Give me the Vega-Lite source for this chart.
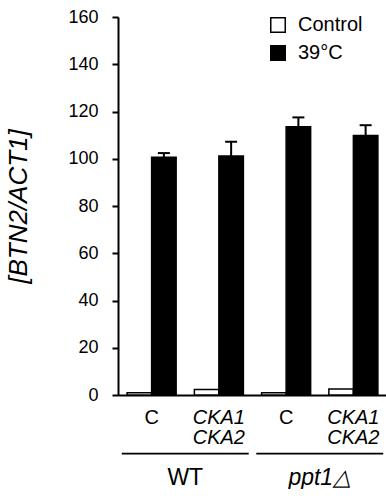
{
  "$schema": "https://vega.github.io/schema/vega-lite/v6.json",
  "width": 269,
  "height": 378,
  "padding": {"left": 5, "top": 8, "right": 0, "bottom": 0},
  "background": "white",
  "config": {
    "view": {"stroke": null},
    "font": "Liberation Sans",
    "axis": {"labelColor": "black", "titleColor": "black", "domainColor": "black", "tickColor": "black", "grid": false}
  },
  "datasets": {
    "bars": [
      {"cond": "WT|C", "group": "WT", "treatment": "Control", "value": 0.9},
      {"cond": "WT|C", "group": "WT", "treatment": "39°C", "value": 100.6, "upper": 102.4},
      {"cond": "WT|CKA", "group": "WT", "treatment": "Control", "value": 2.3},
      {"cond": "WT|CKA", "group": "WT", "treatment": "39°C", "value": 101.2, "upper": 107.2},
      {"cond": "ppt1|C", "group": "ppt1△", "treatment": "Control", "value": 0.9},
      {"cond": "ppt1|C", "group": "ppt1△", "treatment": "39°C", "value": 113.5, "upper": 117.5},
      {"cond": "ppt1|CKA", "group": "ppt1△", "treatment": "Control", "value": 2.5},
      {"cond": "ppt1|CKA", "group": "ppt1△", "treatment": "39°C", "value": 109.8, "upper": 114.2}
    ],
    "groups": [
      {"group": "WT"},
      {"group": "ppt1△"}
    ]
  },
  "layer": [
    {
      "data": {"name": "bars"},
      "layer": [
        {
          "mark": {"type": "bar", "stroke": "black", "strokeWidth": 1.5},
          "encoding": {
            "x": {
              "field": "cond", "type": "nominal",
              "sort": ["WT|C", "WT|CKA", "ppt1|C", "ppt1|CKA"],
              "scale": {"paddingInner": 0.271, "paddingOuter": 0.1355},
              "axis": {
                "orient": "bottom", "title": null, "ticks": false, "domainWidth": 2,
                "labelAngle": 0, "labelFontSize": 20, "labelPadding": 12, "labelBaseline": "top", "labelLineHeight": 20,
                "labelExpr": "indexof(datum.value, 'CKA') >= 0 ? ['CKA1', 'CKA2'] : 'C'",
                "labelFontStyle": {"condition": {"test": "indexof(datum.value, 'CKA') >= 0", "value": "italic"}, "value": "normal"}
              }
            },
            "xOffset": {"field": "treatment", "type": "nominal", "sort": ["Control", "39°C"], "scale": {"paddingInner": 0}},
            "y": {
              "field": "value", "type": "quantitative",
              "scale": {"domain": [0, 160]},
              "title": "[BTN2/ACT1]",
              "axis": {
                "values": [0, 20, 40, 60, 80, 100, 120, 140, 160],
                "domainWidth": 2, "tickWidth": 2, "tickSize": 6,
                "labelFontSize": 18, "labelPadding": 14,
                "titleFontSize": 26, "titleFontStyle": "italic", "titleFontWeight": "normal", "titlePadding": 36
              }
            },
            "fill": {
              "field": "treatment", "type": "nominal",
              "scale": {"domain": ["Control", "39°C"], "range": ["white", "black"]},
              "legend": {
                "orient": "none", "legendX": 150, "legendY": -2, "title": null,
                "symbolType": "square", "symbolSize": 210, "symbolStrokeColor": "black", "symbolStrokeWidth": 1.5,
                "labelFontSize": 20, "labelOffset": 10, "rowPadding": 6, "padding": 0, "labelColor": "black"
              }
            }
          }
        },
        {
          "transform": [{"filter": "isValid(datum.upper)"}],
          "mark": {"type": "rule", "strokeWidth": 2, "color": "black"},
          "encoding": {
            "x": {"field": "cond", "type": "nominal", "sort": ["WT|C", "WT|CKA", "ppt1|C", "ppt1|CKA"]},
            "xOffset": {"field": "treatment", "type": "nominal", "sort": ["Control", "39°C"]},
            "y": {"field": "value", "type": "quantitative", "title": "[BTN2/ACT1]"},
            "y2": {"field": "upper"}
          }
        },
        {
          "transform": [{"filter": "isValid(datum.upper)"}],
          "mark": {"type": "tick", "orient": "horizontal", "size": 12, "thickness": 2, "color": "black", "opacity": 1},
          "encoding": {
            "x": {"field": "cond", "type": "nominal", "sort": ["WT|C", "WT|CKA", "ppt1|C", "ppt1|CKA"]},
            "xOffset": {"field": "treatment", "type": "nominal", "sort": ["Control", "39°C"]},
            "y": {"field": "upper", "type": "quantitative", "title": "[BTN2/ACT1]"}
          }
        }
      ]
    },
    {
      "data": {"name": "groups"},
      "mark": {"type": "bar", "color": "black", "width": {"band": 0.944}},
      "encoding": {
        "x": {
          "field": "group", "type": "nominal", "sort": ["WT", "ppt1△"],
          "scale": {"paddingInner": 0, "paddingOuter": 0},
          "axis": {
            "orient": "bottom", "title": null, "domain": false, "ticks": false,
            "labelAngle": 0, "labelFontSize": 23, "labelPadding": 71, "labelBaseline": "top",
            "labelFontStyle": {"condition": {"test": "datum.value != 'WT'", "value": "italic"}, "value": "normal"}
          }
        },
        "y": {"datum": -24.4},
        "y2": {"datum": -25.2}
      }
    }
  ],
  "resolve": {"scale": {"x": "independent", "xOffset": "independent"}, "axis": {"x": "independent"}}
}
